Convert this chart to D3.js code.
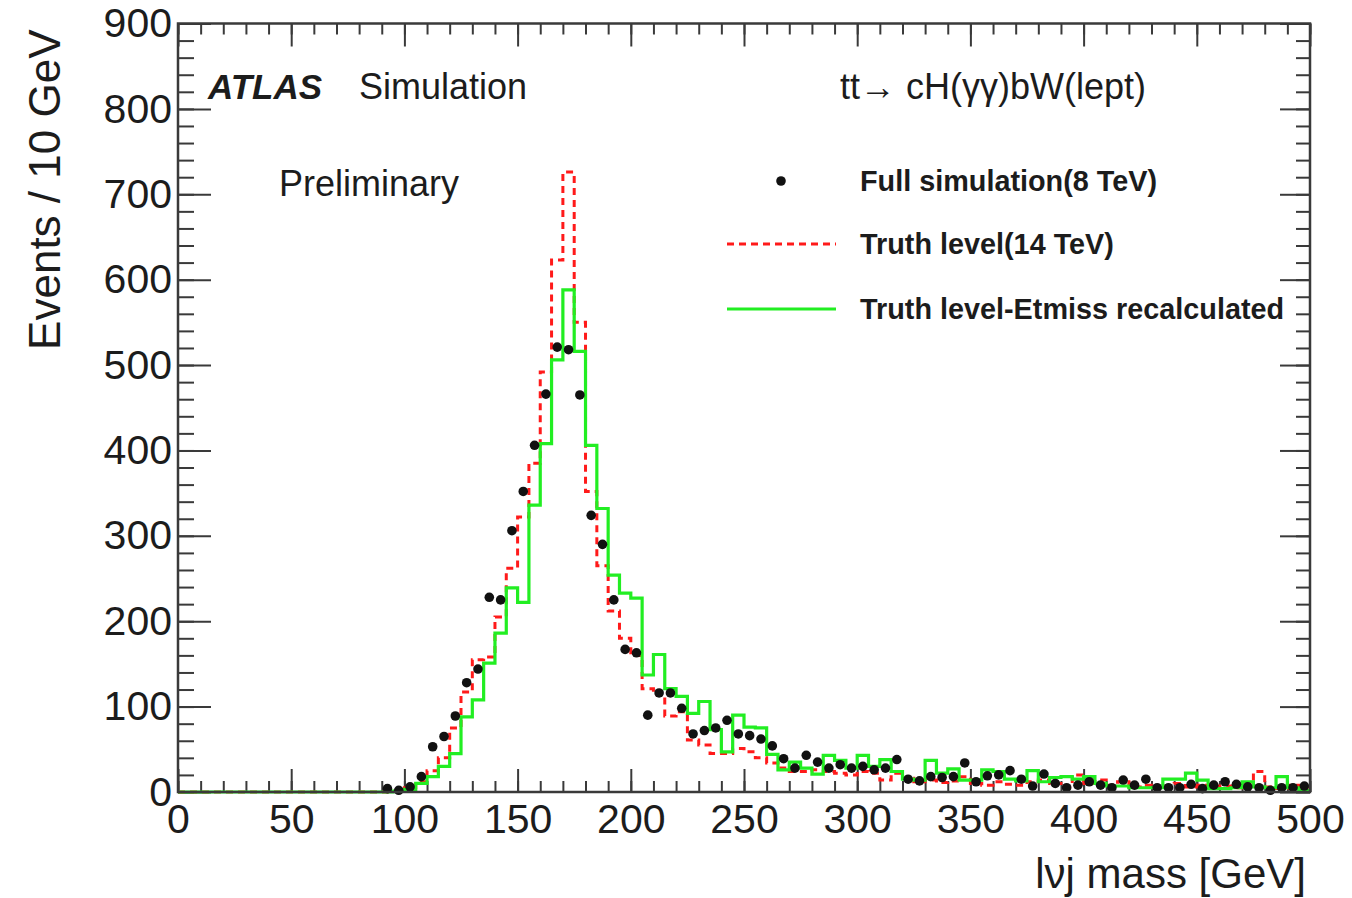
<!DOCTYPE html>
<html>
<head>
<meta charset="utf-8">
<script src="https://cdn.jsdelivr.net/npm/d3@7"></script>
<style>
  html, body { margin: 0; padding: 0; background: #fff; }
  svg { display: block; font-family: "Liberation Sans", Arial, Helvetica, sans-serif; }
</style>
</head>
<body>
<svg id="chart" width="1352" height="898"></svg>
<script>
// lvj invariant mass, 5 GeV bins from 0 to 500 GeV
const binWidth = 5;
const binLow = 0;

// Full simulation (8 TeV), points
const fullSim = [
  0, 0, 0, 0, 0, 0, 0, 0, 0, 0,
  0, 0, 0, 0, 0, 0, 0, 0, 4, 2,
  6, 18, 53, 65, 89, 128, 144, 228, 225, 306,
  352, 406, 466, 521, 518, 465, 324, 290, 225, 167,
  163, 90, 116, 116, 98, 68, 72, 75, 84, 68,
  66, 62, 54, 39, 28, 43, 35, 28, 32, 28,
  30, 26, 28, 38, 15, 13, 18, 17, 18, 34,
  12, 19, 20, 25, 15, 7, 21, 10, 5, 8,
  12, 8, 5, 14, 8, 15, 5, 5, 5, 9,
  4, 8, 12, 9, 6, 5, 2, 5, 5, 7
];

// Truth level (14 TeV), red dashed histogram
const truth14 = [
  0, 0, 0, 0, 0, 0, 0, 0, 0, 0,
  0, 0, 0, 0, 0, 0, 0, 0, 0, 1,
  5, 12, 25, 40, 75, 117, 155, 158, 205, 262,
  322, 385, 492, 623, 726, 550, 352, 265, 212, 180,
  160, 121, 114, 89, 94, 61, 55, 45, 45, 51,
  47, 40, 34, 28, 24, 24, 26, 24, 22, 20,
  24, 22, 14, 22, 16, 12, 14, 11, 13, 18,
  10, 8, 12, 9, 8, 12, 14, 10, 6, 20,
  10, 14, 8, 12, 6, 8, 5, 7, 10, 6,
  8, 6, 7, 5, 10, 24, 6, 4, 8, 6
];

// Truth level with Etmiss recalculated, green histogram
const truthEtmiss = [
  0, 0, 0, 0, 0, 0, 0, 0, 0, 0,
  0, 0, 0, 0, 0, 0, 0, 0, 0, 1,
  3, 10, 18, 30, 45, 88, 108, 151, 186, 239,
  222, 336, 408, 506, 588, 516, 406, 332, 254, 233,
  227, 137, 161, 121, 112, 92, 106, 73, 47, 90,
  76, 75, 44, 26, 35, 28, 21, 43, 37, 28,
  43, 30, 38, 24, 15, 14, 37, 22, 27, 14,
  14, 26, 24, 15, 13, 25, 12, 17, 18, 15,
  18, 10, 7, 7, 5, 5, 5, 15, 15, 22,
  14, 4, 4, 5, 12, 6, 5, 18, 5, 2
];

const xMajorTicks = [0, 50, 100, 150, 200, 250, 300, 350, 400, 450, 500];
const yMajorTicks = [0, 100, 200, 300, 400, 500, 600, 700, 800, 900];

const legendLabels = [
  "Full simulation(8 TeV)",
  "Truth level(14 TeV)",
  "Truth level-Etmiss recalculated"
];

const svg = d3.select("#chart");
const frame = { left: 178, right: 1310, top: 23.5, bottom: 792 };

const x = d3.scaleLinear().domain([0, 500]).range([frame.left, frame.right]);
const y = d3.scaleLinear().domain([0, 900]).range([frame.bottom, frame.top]);

const axisColor = "#3a3a3a";
const textColor = "#1c1c1c";

// ---- axes: ticks point inward, mirrored on top and right ----
function styleAxis(g, width) {
  g.select(".domain").remove();
  g.selectAll(".tick line").attr("stroke", axisColor).attr("stroke-width", width);
}

const minorX = d3.range(0, 501, 10);
const minorY = d3.range(0, 901, 20);

svg.append("g").attr("transform", `translate(0,${frame.bottom})`)
  .call(d3.axisBottom(x).tickValues(minorX).tickSize(-11).tickFormat(""))
  .call(g => styleAxis(g, 2));
svg.append("g").attr("transform", `translate(0,${frame.top})`)
  .call(d3.axisTop(x).tickValues(minorX).tickSize(-11).tickFormat(""))
  .call(g => styleAxis(g, 2));
svg.append("g").attr("transform", `translate(0,${frame.top})`)
  .call(d3.axisTop(x).tickValues(xMajorTicks).tickSize(-23).tickFormat(""))
  .call(g => styleAxis(g, 2));

svg.append("g").attr("transform", `translate(${frame.left},0)`)
  .call(d3.axisLeft(y).tickValues(minorY).tickSize(-16).tickFormat(""))
  .call(g => styleAxis(g, 2));
svg.append("g").attr("transform", `translate(${frame.right},0)`)
  .call(d3.axisRight(y).tickValues(minorY).tickSize(-14).tickFormat(""))
  .call(g => styleAxis(g, 2));
svg.append("g").attr("transform", `translate(${frame.right},0)`)
  .call(d3.axisRight(y).tickValues(yMajorTicks).tickSize(-30).tickFormat(""))
  .call(g => styleAxis(g, 2));

const xAxis = svg.append("g").attr("transform", `translate(0,${frame.bottom})`)
  .call(d3.axisBottom(x).tickValues(xMajorTicks).tickSize(-23).tickPadding(12).tickFormat(d3.format("d")))
  .call(g => styleAxis(g, 2));
xAxis.selectAll(".tick text")
  .attr("font-size", 41).attr("fill", textColor)
  .attr("font-family", "'Liberation Sans', Arial, sans-serif");

const yAxis = svg.append("g").attr("transform", `translate(${frame.left},0)`)
  .call(d3.axisLeft(y).tickValues(yMajorTicks).tickSize(-33).tickPadding(6).tickFormat(d3.format("d")))
  .call(g => styleAxis(g, 2));
yAxis.selectAll(".tick text")
  .attr("font-size", 41).attr("fill", textColor)
  .attr("font-family", "'Liberation Sans', Arial, sans-serif");

// ---- histograms as step outlines ----
function stepPoints(values) {
  const pts = values.map((v, i) => [binLow + i * binWidth, v]);
  pts.push([binLow + values.length * binWidth, values[values.length - 1]]);
  return pts;
}
const stepLine = d3.line()
  .x(d => x(d[0]))
  .y(d => y(d[1]))
  .curve(d3.curveStepAfter);

const plot = svg.append("g");

plot.append("path")
  .datum(stepPoints(truth14))
  .attr("d", stepLine)
  .attr("fill", "none")
  .attr("stroke", "#ff1a1a")
  .attr("stroke-width", 3)
  .attr("stroke-dasharray", "7,5");

plot.append("path")
  .datum(stepPoints(truthEtmiss))
  .attr("d", stepLine)
  .attr("fill", "none")
  .attr("stroke", "#22ee22")
  .attr("stroke-width", 3.2);

// ---- full simulation points ----
const pts = fullSim.map((v, i) => ({ m: binLow + (i + 0.5) * binWidth, v }))
  .filter(d => d.v > 0);
plot.selectAll("circle.pt")
  .data(pts)
  .join("circle")
  .attr("class", "pt")
  .attr("cx", d => x(d.m))
  .attr("cy", d => y(d.v))
  .attr("r", 4.8)
  .attr("fill", "#111");

// ---- frame ----
svg.append("rect")
  .attr("x", frame.left).attr("y", frame.top)
  .attr("width", frame.right - frame.left)
  .attr("height", frame.bottom - frame.top)
  .attr("fill", "none")
  .attr("stroke", axisColor)
  .attr("stroke-width", 2.5);

// ---- axis titles ----
svg.append("text")
  .attr("x", frame.right - 4).attr("y", 888)
  .attr("text-anchor", "end")
  .attr("font-size", 42).attr("fill", textColor)
  .text("lνj mass [GeV]");

svg.append("text")
  .attr("transform", `translate(60,${frame.top + 6}) rotate(-90)`)
  .attr("text-anchor", "end")
  .attr("font-size", 44).attr("fill", textColor)
  .text("Events / 10 GeV");

// ---- labels inside the frame ----
svg.append("text")
  .attr("x", 208).attr("y", 99)
  .attr("font-size", 35).attr("font-weight", "bold").attr("font-style", "italic")
  .attr("fill", textColor)
  .text("ATLAS");
svg.append("text")
  .attr("x", 359).attr("y", 99)
  .attr("font-size", 36).attr("fill", textColor)
  .text("Simulation");
svg.append("text")
  .attr("x", 279).attr("y", 196)
  .attr("font-size", 36).attr("fill", textColor)
  .text("Preliminary");
svg.append("text")
  .attr("x", 840).attr("y", 99)
  .attr("font-size", 36).attr("fill", textColor)
  .text("tt→ cH(γγ)bW(lept)");

// ---- legend ----
const legendY = [181, 244, 309];
const legend = svg.append("g");
legend.append("circle")
  .attr("cx", 781).attr("cy", legendY[0]).attr("r", 4.8).attr("fill", "#111");
legend.append("line")
  .attr("x1", 727).attr("x2", 836).attr("y1", legendY[1]).attr("y2", legendY[1])
  .attr("stroke", "#ff1a1a").attr("stroke-width", 3).attr("stroke-dasharray", "7,5");
legend.append("line")
  .attr("x1", 727).attr("x2", 836).attr("y1", legendY[2]).attr("y2", legendY[2])
  .attr("stroke", "#22ee22").attr("stroke-width", 3.2);
legend.selectAll("text.leg")
  .data(legendLabels)
  .join("text")
  .attr("class", "leg")
  .attr("x", 860)
  .attr("y", (d, i) => legendY[i] + 10)
  .attr("font-size", 28.8).attr("font-weight", "bold").attr("fill", textColor)
  .text(d => d);
</script>
</body>
</html>
